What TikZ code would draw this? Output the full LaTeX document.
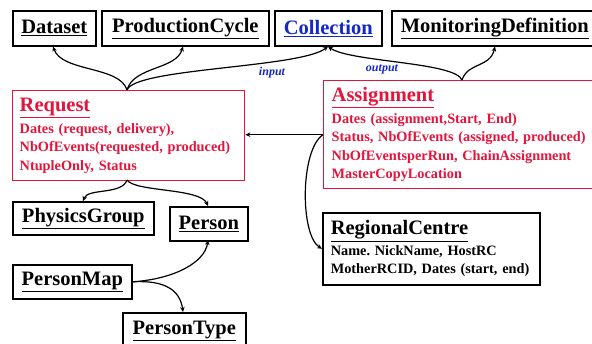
\documentclass[tikz,border=0pt]{standalone}
\usepackage{fontspec}
\setmainfont{Liberation Serif}
\usetikzlibrary{arrows.meta}
\definecolor{boxred}{RGB}{228,20,60}
\definecolor{boxblue}{RGB}{20,40,200}
\newcommand{\boxtitle}[1]{{\fontsize{20.5}{22}\selectfont\underline{#1}}}
\frenchspacing

\begin{document}
\begin{tikzpicture}[x=1pt,y=-1pt,
	box/.style={draw,line width=1.6pt,inner sep=0pt,anchor=north west,font=\bfseries\fontsize{20.5}{22}\selectfont},
	redbox/.style={draw=boxred,text=boxred,line width=1.4pt,anchor=north west,align=left,inner xsep=7pt,inner ysep=0pt,font=\bfseries\fontsize{14.3}{18.5}\selectfont},
	blkbox/.style={draw,line width=1.6pt,anchor=north west,align=left,inner xsep=8pt,inner ysep=0pt,font=\bfseries\fontsize{14.3}{18.5}\selectfont},
	link/.style={line width=1.2pt,-{Stealth[length=5pt,width=4.5pt]}},
	role/.style={text=boxblue,font=\bfseries\itshape\fontsize{12}{12}\selectfont}]
	\useasboundingbox (0,0) rectangle (592,343);
	% top row
	\node[box,minimum width=83,minimum height=35] (dataset) at (12,10) {\underline{Dataset}};
	\node[box,minimum width=167,minimum height=35] (cycle) at (101,10) {\underline{ProductionCycle}};
	\node[box,minimum width=107,minimum height=35,text=boxblue] (coll) at (274,10) {\underline{Collection}};
	\node[box,minimum height=35,inner xsep=9pt] (monit) at (391,10) {\underline{MonitoringDefinition}};
	% main tables
	\node[redbox,minimum width=232,minimum height=90,text width=218] (req) at (12,90)
		{\boxtitle{Request}\\[3pt] Dates (request, delivery),\\ NbOfEvents(requested, produced)\\ NtupleOnly, Status};
	\node[redbox,minimum width=300,minimum height=108,text width=284,inner xsep=8pt] (asg) at (323,80)
		{\boxtitle{Assignment}\\[3pt] Dates (assignment,Start, End)\\ Status, NbOfEvents (assigned, produced)\\ NbOfEventsperRun, ChainAssignment\\ MasterCopyLocation};
	\node[blkbox,minimum width=217,minimum height=72,text width=201] (rc) at (322,212)
		{\boxtitle{RegionalCentre}\\[2pt] Name. NickName, HostRC\\ MotherRCID, Dates (start, end)};
	% lower left
	\node[box,minimum width=141,minimum height=33] (phys) at (12,201) {\underline{PhysicsGroup}};
	\node[box,minimum width=78,minimum height=34] (person) at (169,206) {\underline{Person}};
	\node[box,minimum width=119,minimum height=34] (pmap) at (12,264) {\underline{PersonMap}};
	\node[box,minimum width=123,minimum height=36] (ptype) at (122,312) {\underline{PersonType}};
	% links
	\draw[link] (127,90) .. controls (120,66) and (62,72) .. (53,46.5);
	\draw[link] (127,90) .. controls (134,66) and (176,70) .. (183,46.5);
	\draw[link] (127,90) .. controls (135,68) and (300,68) .. (328,46.5);
	\node[role] (inp) at (272,73) {input};
	\draw[link] (462,80) .. controls (455,62) and (350,62) .. (328,46.5);
	\draw[link] (462,80) .. controls (468,62) and (490,68) .. (495,46.5);
	\node[role] (outp) at (382,69) {output};
	\draw[link] (asg.west) -- (asg.west -| req.east);
	\draw[link] (asg.west) .. controls (300,150) and (300,235) .. (rc.west);
	\draw[link] (127,180) .. controls (122,195) and (88,188) .. (83,201);
	\draw[link] (127,180) .. controls (135,192) and (200,188) .. (208,206);
	\draw[link] (pmap.east) .. controls (175,279) and (205,262) .. (208,240);
	\draw[link] (pmap.east) .. controls (165,280) and (180,290) .. (183,312);
\end{tikzpicture}
\end{document}
